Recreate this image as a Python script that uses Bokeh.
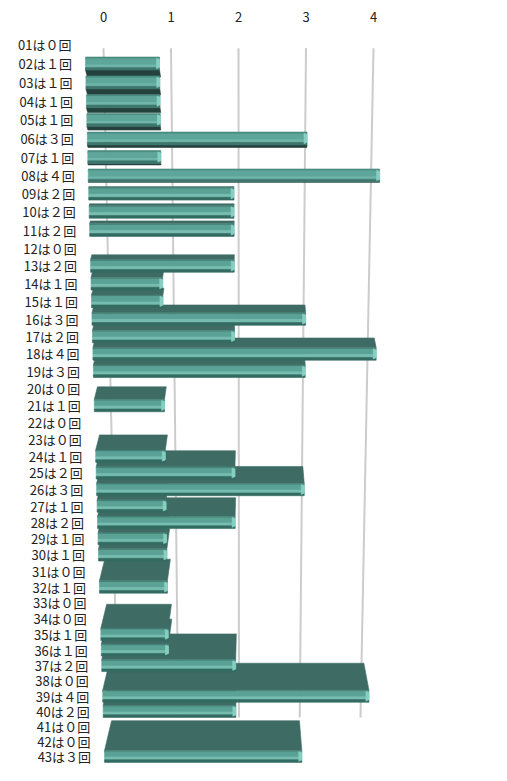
from bokeh.plotting import figure
from bokeh.models import ColumnDataSource, FixedTicker, Range1d
from bokeh.core.properties import value
from bokeh.embed import file_html
from bokeh.resources import INLINE

# 回ごとの出現回数
rounds = [f"{n:02d}" for n in range(1, 44)]
counts = [0, 1, 1, 1, 1, 3, 1, 4, 2, 2,
          2, 0, 2, 1, 1, 3, 2, 4, 3, 0,
          1, 0, 0, 1, 2, 3, 1, 2, 1, 1,
          0, 1, 0, 0, 1, 1, 2, 0, 4, 2,
          0, 0, 3]
ticks = [0, 1, 2, 3, 4]

FW = "０１２３４５６７８９"
labels = [f"{r}は{FW[c]}回" for r, c in zip(rounds, counts)]

PX = 19.0      # px per row at the top
UNIT = 67.5    # px per value unit on the back wall (top)
VP = 2.2       # horizontal vanishing point (value units)
FONT = "Noto Sans CJK JP"


# --- 疑似3Dの投影 ---
def row_gap(i):
    return (19 - 0.1 * (i - 1)) / PX


def row_y(i):
    return (i - 1) - 0.05 / PX * (i - 1) * (i - 2)


def front_left(i):
    return -0.274 + 0.0069 * (i - 1)


def unit_len(i):
    return 1.10 - 0.003 * (i - 1)


def face_h(i):
    return (13 - (i - 1) / 42) / PX


def depth_px(i):
    return 1.1 * (i - 8.4) * row_gap(i)


def back_x(v, y):
    # 奥の壁: 上端 v, 下端 0.207 + 0.9 v
    top, bot = row_y(1.2), row_y(40.4)
    f = (y - top) / (bot - top)
    return v + f * (0.207 - 0.1 * v)


# 上面が見える棒 / 底面が見える棒
stripes_top = [(0.00, 0.14, "#467f76"),
               (0.12, 0.56, "#5aa295"),
               (0.54, 0.80, "#76bdb0"),
               (0.78, 1.00, "#336b62")]
stripes_under = [(0.00, 0.16, "#4a8c81"),
                 (0.14, 0.62, "#5ea699"),
                 (0.60, 0.82, "#6fb6a9"),
                 (0.80, 1.00, "#3c766d")]

xs, ys, colors = [], [], []
order = sorted(range(1, 44), key=lambda i: -abs(depth_px(i)))
for i in order:
    v = counts[i - 1]
    if v == 0:
        continue
    yc = row_y(i)
    h = face_h(i)
    top, bot = yc - h / 2, yc + h / 2
    xl = front_left(i)
    xr = xl + v * unit_len(i)
    d = depth_px(i)
    dy = d / PX
    t = 0.0016 * abs(d)
    bxl = xl + (VP - xl) * t
    bxr = xr + (VP - xr) * t
    edge = top if d > 0 else bot
    xs.append([xl, xr, bxr, bxl])
    ys.append([edge, edge, edge - dy, edge - dy])
    colors.append("#3e6b64" if d > 0 else "#25413d")
    for f0, f1, c in (stripes_top if d > 0 else stripes_under):
        xs.append([xl, xr, xr, xl])
        ys.append([top + f0 * h, top + f0 * h, top + f1 * h, top + f1 * h])
        colors.append(c)
    cap = 3 / UNIT
    xs.append([xr - cap, xr, xr, xr - cap])
    ys.append([top + 0.1 * h, top + 0.2 * h, bot - 0.2 * h, bot - 0.1 * h])
    colors.append("#86d0c3")

bars = ColumnDataSource(dict(xs=xs, ys=ys, color=colors))

x0 = -103 / UNIT
y0 = row_y(1) - 14 / PX
p = figure(width=491, height=765,
           x_range=Range1d(x0, x0 + 491 / UNIT),
           y_range=Range1d(y0 + 735 / PX, y0),
           x_axis_location="above", y_axis_location=None,
           toolbar_location=None, output_backend="svg",
           min_border_left=0, min_border_right=0,
           min_border_top=30, min_border_bottom=0)
p.outline_line_color = None
p.xgrid.visible = False
p.ygrid.visible = False

p.xaxis.ticker = FixedTicker(ticks=ticks)
p.xaxis.axis_line_color = None
p.xaxis.major_tick_line_color = None
p.xaxis.minor_tick_line_color = None
p.xaxis.major_label_text_font = FONT
p.xaxis.major_label_text_font_size = "13px"
p.xaxis.major_label_text_color = "#222222"
p.xaxis.major_label_standoff = 3

gy0, gy1 = row_y(1.2), row_y(40.4)
p.segment(x0=ticks, y0=[gy0] * len(ticks),
          x1=[back_x(v, gy1) for v in ticks], y1=[gy1] * len(ticks),
          line_color="#cccccc", line_width=2)

p.patches("xs", "ys", fill_color="color", line_color="color",
          line_width=0.6, source=bars)

rows = list(range(1, 44))
p.text(x=[front_left(i) - 0.2 for i in rows], y=[row_y(i) for i in rows],
       text=labels, text_align="right", text_baseline="middle",
       text_font=value(FONT), text_font_size="13px", text_color="#222222")

open("out.html", "w").write(file_html(p, INLINE))
